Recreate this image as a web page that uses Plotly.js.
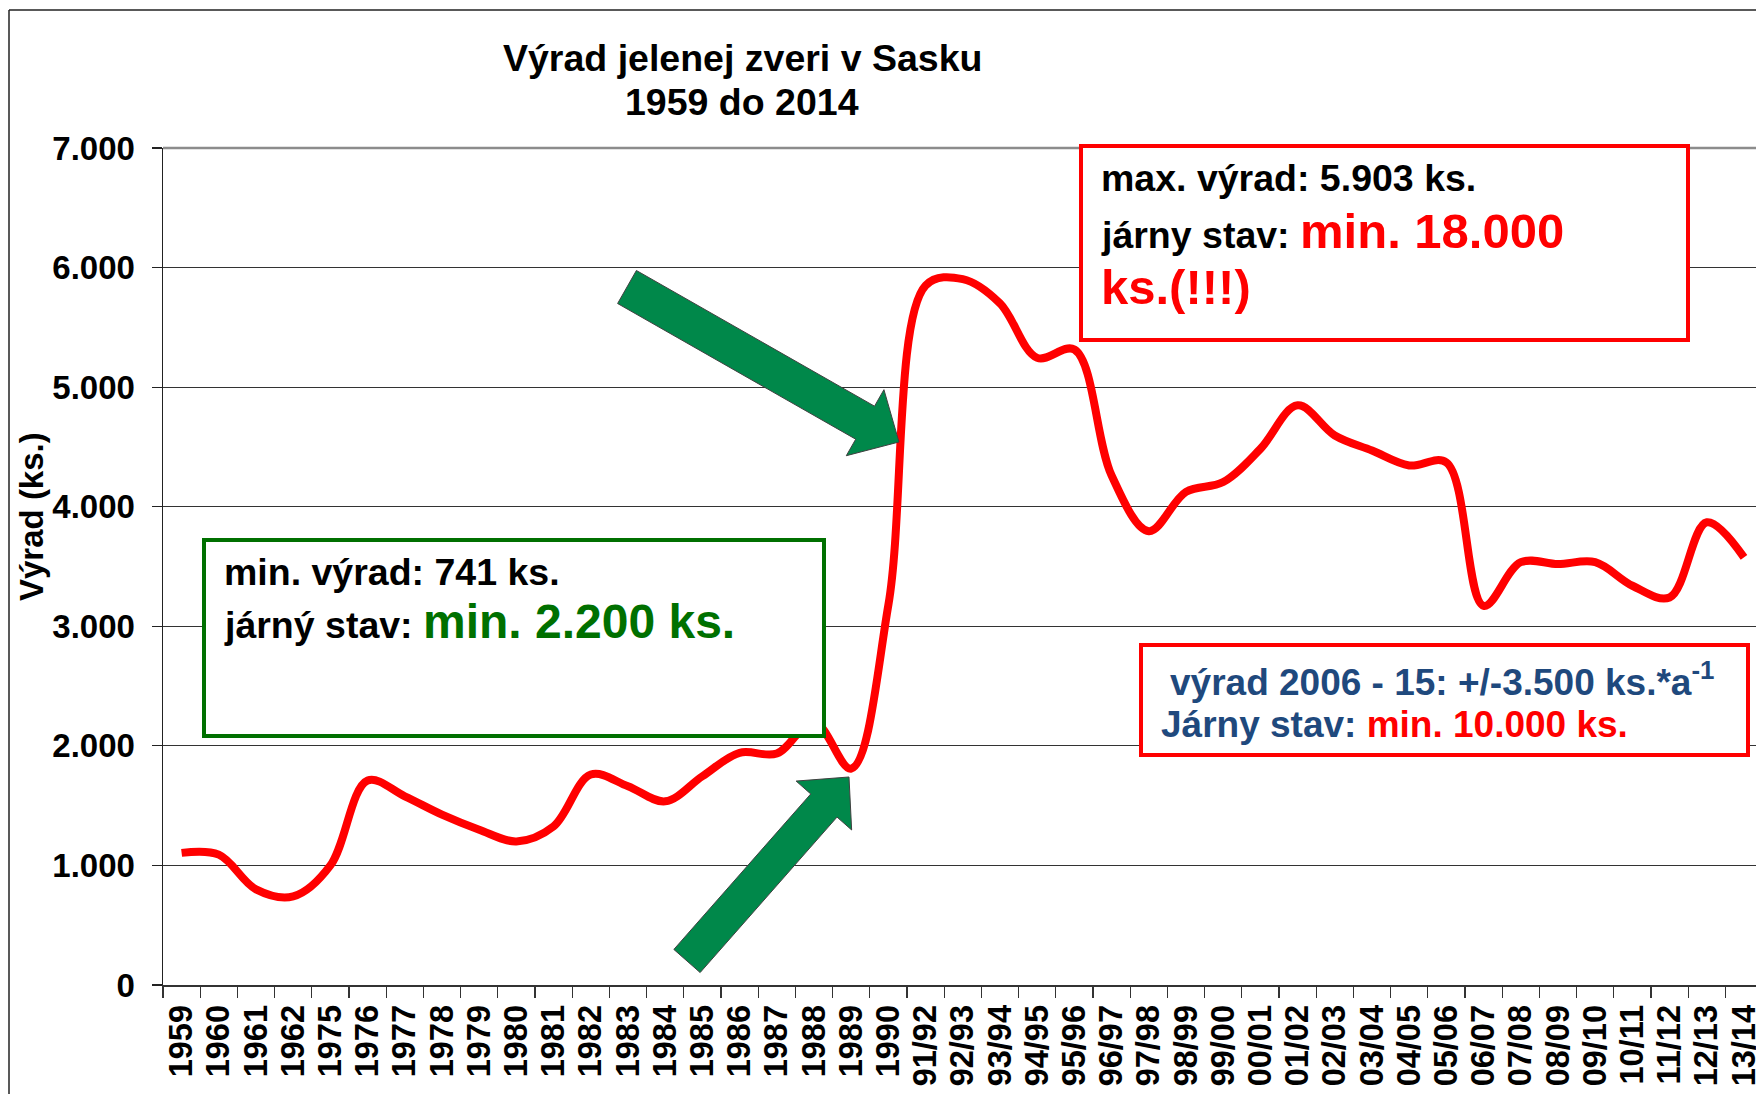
<!DOCTYPE html>
<html>
<head>
<meta charset="utf-8">
<script src="https://cdn.plot.ly/plotly-3.0.1.min.js"></script>
<style>
  html, body { margin: 0; padding: 0; background: #ffffff; }
  #chart { width: 1756px; height: 1094px; }
</style>
</head>
<body>
<div id="chart"></div>
<script>
// ---- data ----
const categories = ["1959","1960","1961","1962","1975","1976","1977","1978","1979","1980",
  "1981","1982","1983","1984","1985","1986","1987","1988","1989","1990",
  "91/92","92/93","93/94","94/95","95/96","96/97","97/98","98/99","99/00","00/01",
  "01/02","02/03","03/04","04/05","05/06","06/07","07/08","08/09","09/10","10/11",
  "11/12","12/13","13/14"];
const vyrad = [1105, 1090, 800, 741, 1000, 1710, 1578, 1425, 1299, 1201,
  1327, 1760, 1662, 1536, 1746, 1942, 1936, 2200, 1810, 3180,
  5850, 5903, 5700, 5245, 5315, 4261, 3795, 4124, 4206, 4484,
  4848, 4596, 4470, 4345, 4370, 3171, 3536, 3520, 3536, 3339,
  3241, 3870, 3576];
const yTickVals = [0, 1000, 2000, 3000, 4000, 5000, 6000, 7000];

// ---- layout geometry ----
const W = 1756, H = 1094;
const M = { l: 163, r: 0, t: 148, b: 109 };
const plotW = W - M.l - M.r, plotH = H - M.t - M.b;
const catW = 37.2;
const xMax = -0.5 + plotW / catW;

function px(x) { return (x - M.l) / plotW; }
function py(y) { return (H - M.b - y) / plotH; }

const FONT = "Liberation Sans, Arial, Helvetica, sans-serif";
const GREEN = "#007000", RED = "#ff0000", BLUE = "#1f497d";

// block arrow polygon (pixel geometry -> paper path)
function arrowPath(T, P, w, Wd, Hd) {
  const dx = P[0] - T[0], dy = P[1] - T[1];
  const L = Math.hypot(dx, dy);
  const u = [dx / L, dy / L], v = [-u[1], u[0]];
  const b = [T[0] + u[0] * (L - Hd), T[1] + u[1] * (L - Hd)];
  const pts = [
    [T[0] + v[0] * w, T[1] + v[1] * w],
    [b[0] + v[0] * w, b[1] + v[1] * w],
    [b[0] + v[0] * Wd, b[1] + v[1] * Wd],
    P,
    [b[0] - v[0] * Wd, b[1] - v[1] * Wd],
    [b[0] - v[0] * w, b[1] - v[1] * w],
    [T[0] - v[0] * w, T[1] - v[1] * w]
  ];
  return pts.map((p, i) => (i ? "L" : "M") + px(p[0]).toFixed(5) + "," + py(p[1]).toFixed(5)).join(" ") + " Z";
}

function rectShape(x0, y0, x1, y1, color, lw) {
  return { type: "rect", xref: "paper", yref: "paper", layer: "above",
    x0: px(x0), x1: px(x1), y0: py(y1), y1: py(y0),
    fillcolor: "#ffffff", line: { color: color, width: lw } };
}

function txt(x, y, text, size, color, anchor) {
  return { xref: "paper", yref: "paper", x: px(x), y: py(y), text: text,
    showarrow: false, xanchor: anchor || "left", yanchor: "middle", align: "left",
    font: { family: FONT, size: size, color: color || "#000000" } };
}

const trace = {
  type: "scatter", mode: "lines", x: categories, y: vyrad,
  line: { color: RED, width: 8, shape: "spline", smoothing: 1 },
  hoverinfo: "x+y"
};

const shapes = [
  // outer frame (left & top)
  { type: "line", xref: "paper", yref: "paper", x0: px(9), x1: px(9), y0: py(1094), y1: py(10), line: { color: "#222222", width: 1.5 } },
  { type: "line", xref: "paper", yref: "paper", x0: px(9), x1: px(1756), y0: py(10), y1: py(10), line: { color: "#222222", width: 1.5 } },
  // top gridline (light gray)
  { type: "line", xref: "paper", yref: "paper", layer: "above", x0: 0, x1: 1, y0: 1, y1: 1, line: { color: "#8c8c8c", width: 2.5 } },
  // boxes
  rectShape(204, 540, 824, 736, GREEN, 4),
  rectShape(1081, 146, 1688, 340, RED, 4),
  rectShape(1141, 645, 1748, 755, RED, 4),
  // green arrows
  { type: "path", xref: "paper", yref: "paper", layer: "above",
    path: arrowPath([627, 287], [899, 442], 19, 38, 39),
    fillcolor: "#00884a", line: { color: "#404040", width: 1 } },
  { type: "path", xref: "paper", yref: "paper", layer: "above",
    path: arrowPath([687, 961], [849, 777], 17.5, 37, 38),
    fillcolor: "#00884a", line: { color: "#404040", width: 1 } }
];

const annotations = [
  txt(742, 58, "<b>Výrad jelenej zveri v Sasku</b>", 37.5, "#000000", "center"),
  txt(742, 102, "<b>1959 do 2014</b>", 37.5, "#000000", "center"),
  { xref: "paper", yref: "paper", x: px(31), y: py(517), text: "<b>Výrad (ks.)</b>",
    textangle: -90, showarrow: false, xanchor: "center", yanchor: "middle",
    font: { family: FONT, size: 33, color: "#000000" } },
  // green box
  txt(222, 572, "<b>min. výrad: 741 ks.</b>", 37.5),
  txt(222, 621, "<b>járný stav: <span style=\"color:" + GREEN + ";font-size:48px\">min. 2.200 ks.</span></b>", 37.5),
  // red box top
  txt(1099, 178, "<b>max. výrad: 5.903 ks.</b>", 37.5),
  txt(1099, 231, "<b>járny stav: <span style=\"color:" + RED + ";font-size:49px\">min. 18.000</span></b>", 37.5),
  txt(1099, 287, "<b>ks.(!!!)</b>", 49, RED),
  // blue box
  txt(1168, 680, "<b>výrad 2006 - 15: +/-3.500 ks.*a<sup>-1</sup></b>", 37, BLUE),
  txt(1159, 724, "<b>Járny stav: <span style=\"color:" + RED + "\">min. 10.000 ks.</span></b>", 37, BLUE)
];

const layout = {
  width: W, height: H,
  margin: M,
  paper_bgcolor: "#ffffff", plot_bgcolor: "#ffffff",
  separators: ",.",
  showlegend: false,
  font: { family: FONT, color: "#000000" },
  xaxis: {
    type: "category", range: [-0.5, xMax], fixedrange: true,
    tickmode: "linear", tick0: 0, dtick: 1,
    showgrid: false, zeroline: false,
    showline: true, linecolor: "#333333", linewidth: 2,
    ticks: "outside", tickson: "boundaries", ticklen: 11, tickcolor: "#333333", tickwidth: 1.2,
    tickangle: -90, ticklabelstandoff: 5,
    tickfont: { family: FONT, size: 32.5, color: "#000000", weight: "bold" }
  },
  yaxis: {
    range: [0, 7000], tickvals: yTickVals, tickformat: ",d", fixedrange: true,
    showgrid: true, gridcolor: "#333333", gridwidth: 1.2, zeroline: false,
    showline: true, linecolor: "#222222", linewidth: 1.5,
    ticks: "outside", ticklen: 10, tickcolor: "#222222", tickwidth: 1.2,
    ticklabelstandoff: 10,
    tickfont: { family: FONT, size: 33, color: "#000000", weight: "bold" }
  },
  shapes: shapes,
  annotations: annotations
};

Plotly.newPlot("chart", [trace], layout, { displayModeBar: false, staticPlot: true });
</script>
</body>
</html>
